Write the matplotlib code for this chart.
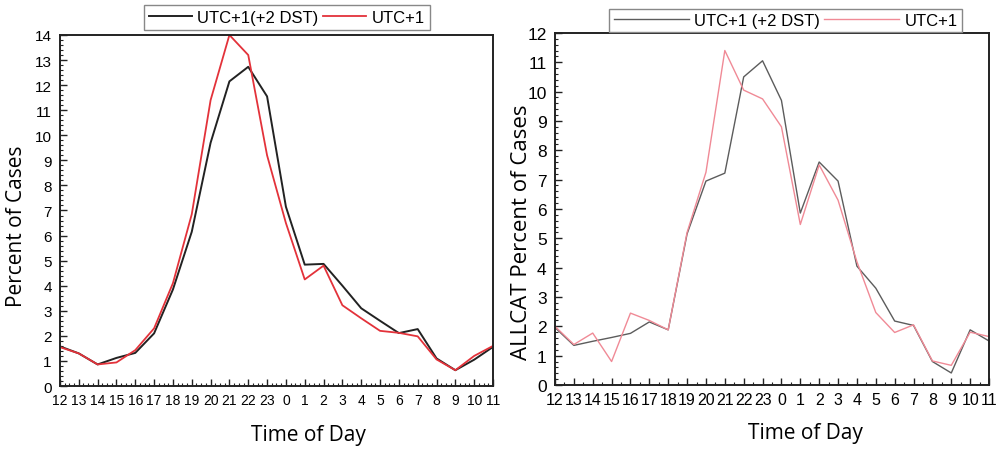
import matplotlib.pyplot as plt
from matplotlib.ticker import MultipleLocator
import numpy as np

# hour labels along x (starting at noon)
hours = [12, 13, 14, 15, 16, 17, 18, 19, 20, 21, 22, 23, 0, 1, 2, 3, 4, 5, 6, 7, 8, 9, 10, 11]

# left panel
left_dst = [1.58, 1.3, 0.86, 1.12, 1.32, 2.1, 3.85, 6.15, 9.7, 12.15, 12.73, 11.55,
            7.15, 4.84, 4.87, 4.0, 3.1, 2.6, 2.11, 2.27, 1.1, 0.63, 1.05, 1.56]
left_utc = [1.55, 1.3, 0.86, 0.94, 1.43, 2.3, 4.1, 6.85, 11.4, 14.0, 13.2, 9.2,
            6.5, 4.25, 4.8, 3.22, 2.7, 2.2, 2.12, 1.98, 1.06, 0.63, 1.2, 1.6]

# right panel (ALLCAT)
right_dst = [1.96, 1.35, 1.49, 1.62, 1.76, 2.15, 1.88, 5.15, 6.95, 7.22, 10.5, 11.05,
             9.7, 5.86, 7.6, 6.95, 4.05, 3.3, 2.18, 2.03, 0.8, 0.41, 1.88, 1.5]
right_utc = [2.0, 1.38, 1.77, 0.8, 2.45, 2.2, 1.88, 5.2, 7.25, 11.4, 10.05, 9.75,
             8.8, 5.47, 7.5, 6.3, 4.2, 2.47, 1.79, 2.05, 0.82, 0.67, 1.8, 1.65]

x = np.arange(len(hours))

fig = plt.figure(figsize=(9.96, 4.52), dpi=100)
ax1 = fig.add_axes([0.0602, 0.1438, 0.4348, 0.7766])
ax2 = fig.add_axes([0.5572, 0.146, 0.4358, 0.779])

tick_font = 'Liberation Sans'
label_font = 'Open Sans'


def style_axis(ax, ymax, ystep_minor, xminor, tick_size):
    ax.set_xlim(0, len(hours) - 1)
    ax.set_ylim(0, ymax)
    ax.set_xticks(x)
    ax.set_xticklabels([str(h) for h in hours], fontsize=tick_size, family=tick_font)
    ax.set_yticks(range(0, ymax + 1))
    ax.set_yticklabels([str(v) for v in range(0, ymax + 1)], fontsize=tick_size + 1, family=tick_font)
    ax.xaxis.set_minor_locator(MultipleLocator(xminor))
    ax.yaxis.set_minor_locator(MultipleLocator(ystep_minor))
    ax.tick_params(which='both', direction='in', top=False, right=False, color='#222222')
    ax.tick_params(which='major', length=5, width=1)
    ax.tick_params(which='minor', length=2.5, width=0.8)
    ax.tick_params(axis='x', which='major', pad=5)
    ax.tick_params(axis='y', which='major', pad=6)
    for s in ax.spines.values():
        s.set_linewidth(1.4)
        s.set_color('#222222')


# left chart
ax1.plot(x, left_dst, color='#222222', linewidth=1.4, label='UTC+1(+2 DST)')
ax1.plot(x, left_utc, color='#e3323a', linewidth=1.3, label='UTC+1')
style_axis(ax1, 14, 0.2, 0.25, 10)
ax1.set_xlabel('Time of Day', fontsize=15, family=label_font, va='center')
ax1.xaxis.set_label_coords(0.573, -0.137)
ax1.set_ylabel('Percent of Cases', fontsize=15, family=label_font, va='center')
ax1.yaxis.set_label_coords(-0.1, 0.459)
leg1 = ax1.legend(loc='center', bbox_to_anchor=(0.2877, 0.9595), bbox_transform=fig.transFigure,
                  ncol=2, fancybox=False, edgecolor='#888888', framealpha=1,
                  prop={'family': tick_font, 'size': 12}, handlelength=2.6,
                  handletextpad=0.3, columnspacing=0.3, borderpad=0.3)
leg1.get_frame().set_linewidth(1.0)

# right chart
ax2.plot(x, right_dst, color='#5c5c5c', linewidth=1.0, label='UTC+1 (+2 DST)')
ax2.plot(x, right_utc, color='#f08a96', linewidth=1.0, label='UTC+1')
style_axis(ax2, 12, 0.2, 0.5, 11.5)
ax2.set_xlabel('Time of Day', fontsize=15, family=label_font, va='center')
ax2.xaxis.set_label_coords(0.578, -0.136)
ax2.set_ylabel('ALLCAT Percent of Cases', fontsize=16, family=label_font, va='center')
ax2.yaxis.set_label_coords(-0.078, 0.4375)
leg2 = ax2.legend(loc='center', bbox_to_anchor=(0.7887, 0.952), bbox_transform=fig.transFigure,
                  ncol=2, fancybox=False, edgecolor='#888888', framealpha=1,
                  prop={'family': tick_font, 'size': 12}, handlelength=4.5,
                  handletextpad=0.3, columnspacing=0.3, borderpad=0.25)
leg2.get_frame().set_linewidth(1.0)
leg2.set_zorder(5)

fig.savefig('out.png', dpi=100)
